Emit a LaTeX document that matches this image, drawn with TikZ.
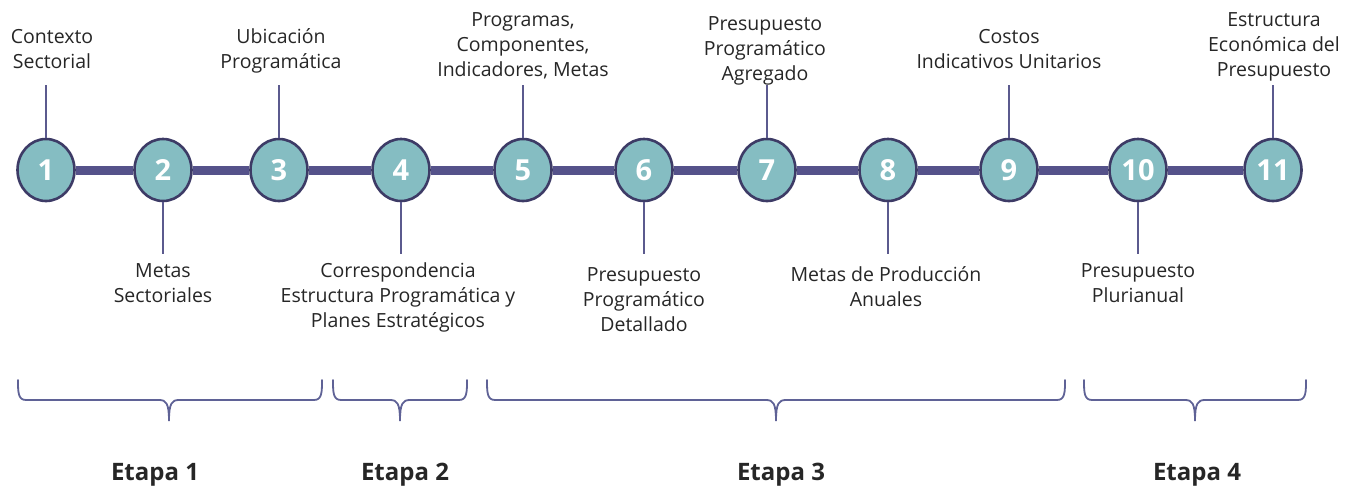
\documentclass[tikz,border=0pt]{standalone}
\usepackage{fontspec}
\setmainfont{Open Sans}
\usetikzlibrary{shapes.geometric,calc}
\definecolor{cfill}{HTML}{85BDC2}
\definecolor{cborder}{HTML}{3D3B66}
\definecolor{barcol}{HTML}{55528A}
\definecolor{tickcol}{HTML}{5B5A8E}
\definecolor{bracecol}{HTML}{5F6296}
\definecolor{txtcol}{HTML}{262626}
\tikzset{
  stepcirc/.style={ellipse, draw=cborder, line width=2.6pt, fill=cfill,
    minimum width=57pt, minimum height=62pt, inner sep=0pt,
    text=white, font=\fontsize{29}{29}\selectfont\bfseries},
  barline/.style={draw=barcol, line width=9pt},
  tickline/.style={draw=tickcol, line width=1.6pt},
  lbl/.style={align=center, text=txtcol, inner sep=0pt,
    font=\fontsize{19.5}{25}\selectfont},
  bracepath/.style={draw=bracecol, line width=1.8pt, line cap=round},
  etapa/.style={text=txtcol, inner sep=0pt, font=\fontsize{24}{24}\selectfont\bfseries}
}
\begin{document}
\begin{tikzpicture}[x=1pt,y=-1pt]
\useasboundingbox (0,0) rectangle (1346,485);
% circles
\foreach \n/\x in {1/46,2/163,3/279,4/401,5/523,6/644,7/767,8/888,9/1009,10/1138,11/1273}{
  \node[stepcirc] (c\n) at (\x,170) {\n};
}
% bar segments
\foreach \a/\b in {1/2,2/3,3/4,4/5,5/6,6/7,7/8,8/9,9/10,10/11}{
  \path[barline] (c\a) -- (c\b);
}
% ticks
\foreach \n in {1,3,5,7,9,11}{
  \coordinate (t\n) at ($(c\n.north)+(0,-53)$);
  \path[tickline] (c\n.north) -- (t\n);
}
\foreach \n in {2,4,6,8,10}{
  \coordinate (t\n) at ($(c\n.south)+(0,52)$);
  \path[tickline] (c\n.south) -- (t\n);
}
% labels top (anchor base = last line baseline)
\node[lbl, anchor=base] (l1) at (52,68) {Contexto\\Sectorial};
\node[lbl, anchor=base] (l3) at (281,68) {Ubicación\\Programática};
\node[lbl, anchor=base] (l5) at (523,76) {Programas,\\Componentes,\\Indicadores, Metas};
\node[lbl, anchor=base] (l7) at (765,80) {Presupuesto\\Programático\\Agregado};
\node[lbl, anchor=base] (l9) at (1009,68) {Costos\\Indicativos Unitarios};
\node[lbl, anchor=base] (l11) at (1274,76) {Estructura\\Económica del\\Presupuesto};
% labels bottom
\node[lbl, anchor=base] (l2) at (163,302) {Metas\\Sectoriales};
\node[lbl, anchor=base] (l4) at (398,327) {Correspondencia\\Estructura Programática y\\Planes Estratégicos};
\node[lbl, anchor=base] (l6) at (644,331) {Presupuesto\\Programático\\Detallado};
\node[lbl, anchor=base] (l8) at (886,306) {Metas de Producción\\Anuales};
\node[lbl, anchor=base] (l10) at (1138,302) {Presupuesto\\Plurianual};
% braces
\foreach \l/\t/\r in {18/169/322, 333/400/467, 487/776/1065, 1084/1195/1306}{
  \path[bracepath] (\l,380) .. controls (\l,392) and (\l,400) .. (\l+8,400)
    -- (\t-10,400) .. controls (\t-3,400) and (\t,403) .. (\t,421)
    .. controls (\t,403) and (\t+3,400) .. (\t+10,400)
    -- (\r-8,400) .. controls (\r,400) and (\r,392) .. (\r,380);
}
% etapa labels
\node[etapa, anchor=base] (e1) at (155,480) {Etapa 1};
\node[etapa, anchor=base] (e2) at (405,480) {Etapa 2};
\node[etapa, anchor=base] (e3) at (781,480) {Etapa 3};
\node[etapa, anchor=base] (e4) at (1197,480) {Etapa 4};
\end{tikzpicture}
\end{document}
